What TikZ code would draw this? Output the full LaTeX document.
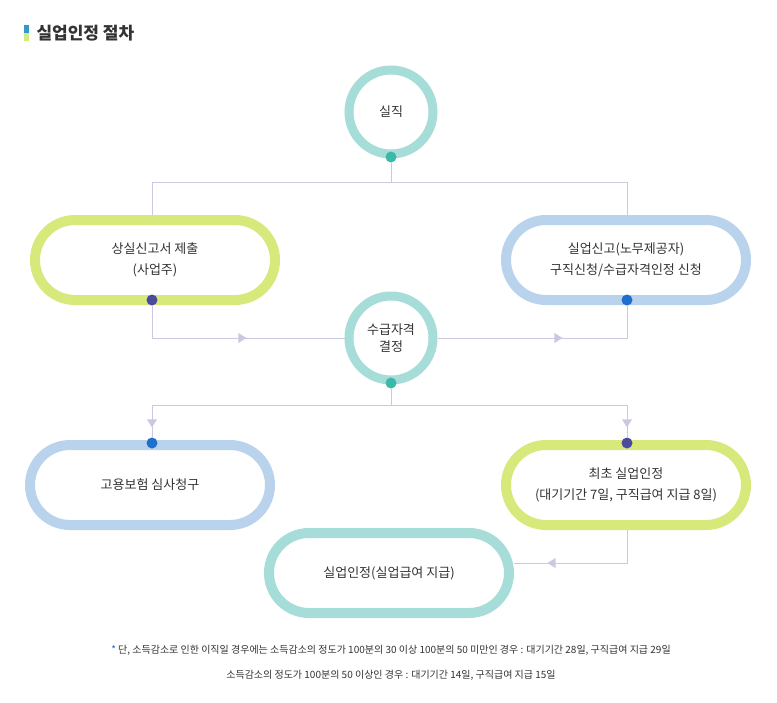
\documentclass[tikz,border=0pt]{standalone}
\usepackage{fontspec}
\setmainfont{Noto Sans CJK KR}
\usetikzlibrary{arrows.meta,decorations.markings}
\definecolor{teal1}{HTML}{A6DDD8}
\definecolor{tealdot}{HTML}{3BB8A8}
\definecolor{green1}{HTML}{D6E97A}
\definecolor{blue1}{HTML}{B9D3EC}
\definecolor{purdot}{HTML}{4B4A9C}
\definecolor{bluedot}{HTML}{1F6FCC}
\definecolor{titleblue}{HTML}{3399CC}
\definecolor{ln}{HTML}{C9C9E2}
\definecolor{txt}{HTML}{333333}
\tikzset{
 ring/.style={circle,draw=teal1,line width=9pt,minimum size=84pt,fill=white,align=center,font=\fontsize{13}{17}\selectfont,text=txt},
 pill/.style={rectangle,rounded corners=40pt,line width=10pt,minimum width=240pt,minimum height=80pt,fill=white,align=center,font=\fontsize{13}{21}\selectfont,text=txt},
 dot/.style={circle,inner sep=0pt,minimum size=11pt},
 conn/.style={draw=ln,line width=0.8pt},
 arr/.style={conn,postaction={decorate},decoration={markings,mark=at position #1 with {\fill[ln] (3pt,0)--(-5pt,5pt)--(-5pt,-5pt)--cycle;}}}
}
\begin{document}
\begin{tikzpicture}[x=1pt,y=-1pt]
\useasboundingbox (0,0) rectangle (777,702);
\fill[white] (0,0) rectangle (777,702);
% title
\fill[titleblue] (24,25) rectangle (29,33);
\fill[green1] (24,33) rectangle (29,41);
\node[anchor=west,font=\fontsize{17}{20}\selectfont\bfseries,text=txt] (title) at (33,33) {실업인정 절차};
% nodes
\node[ring] (c1) at (391,112) {실직};
\node[pill,draw=green1] (p1) at (155,260) {상실신고서 제출\\(사업주)};
\node[pill,draw=blue1] (p2) at (626,260) {실업신고(노무제공자)\\구직신청/수급자격인정 신청};
\node[ring] (c2) at (391,338) {수급자격\\결정};
\node[pill,draw=blue1] (p3) at (150,485) {고용보험 심사청구};
\node[pill,draw=green1] (p4) at (626,485) {최초 실업인정\\(대기기간 7일, 구직급여 지급 8일)};
\node[pill,draw=teal1] (p5) at (389,573) {실업인정(실업급여 지급)};
% dots
\node[dot,fill=tealdot] (d1) at (391,157) {};
\node[dot,fill=purdot] (d2) at (152,300) {};
\node[dot,fill=bluedot] (d3) at (627,300) {};
\node[dot,fill=tealdot] (d4) at (391,383) {};
\node[dot,fill=bluedot] (d5) at (152,443) {};
\node[dot,fill=purdot] (d6) at (627,443) {};
\coordinate (j1) at (391,182);
\coordinate (j2) at (391,405);
% connectors
\draw[conn] (d1) -- (j1);
\draw[conn] (152,182) -- (627,182);
\draw[conn] (152,182) -- (p1.north -| 152,0);
\draw[conn] (627,182) -- (p2.north -| 627,0);
\draw[arr=0.55] (d2) |- (c2.west);
\draw[arr=0.55] (c2.east) -| (d3);
\draw[conn] (d4) -- (j2);
\draw[conn] (152,405) -- (627,405);
\draw[arr=0.6] (152,405) -- (d5);
\draw[arr=0.6] (627,405) -- (d6);
\draw[arr=0.75] (p4.south -| 627,0) |- (p5.east |- 0,563);
% footnote
\node[font=\fontsize{10}{12}\selectfont,text=txt] (f1) at (391,650) {{\color{bluedot}*} 단, 소득감소로 인한 이직일 경우에는 소득감소의 정도가 100분의 30 이상 100분의 50 미만인 경우 : 대기기간 28일, 구직급여 지급 29일};
\node[font=\fontsize{10}{12}\selectfont,text=txt] (f2) at (391,675) {소득감소의 정도가 100분의 50 이상인 경우 : 대기기간 14일, 구직급여 지급 15일};
\end{tikzpicture}
\end{document}
